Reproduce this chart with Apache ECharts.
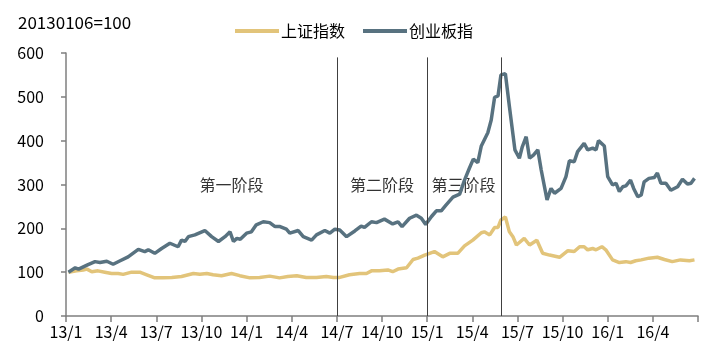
<!DOCTYPE html>
<html><head><meta charset="utf-8">
<script src="https://cdn.jsdelivr.net/npm/echarts@6/dist/echarts.min.js"></script>
<style>html,body{margin:0;padding:0;background:#fff}#c{width:711px;height:355px}</style>
</head><body><div id="c"></div>
<script>
const FONT = '"Noto Sans CJK SC","Noto Sans",sans-serif';
const seriesNames = ['上证指数', '创业板指'];
const xTickLabels = ['13/1','13/4','13/7','13/10','14/1','14/4','14/7','14/10','15/1','15/4','15/7','15/10','16/1','16/4',''];
const yTickLabels = ['0','100','200','300','400','500','600'];
const stageNames = ['第一阶段','第二阶段','第三阶段'];
const stageDates = ['2013-12-01','2014-10-01','2015-03-14'];
const stageY = [300, 300, 300];
const dividerDates = ['2014-07-01','2015-01-01','2015-05-30'];

const cybDates = ['2013-01-06','2013-01-20','2013-01-27','2013-02-12','2013-02-27','2013-03-09','2013-03-23','2013-04-05','2013-04-19','2013-05-05','2013-05-26','2013-06-08','2013-06-15','2013-06-28','2013-07-12','2013-07-29','2013-08-15','2013-08-22','2013-08-29','2013-09-05','2013-09-18','2013-10-08','2013-10-22','2013-11-05','2013-11-18','2013-11-28','2013-12-05','2013-12-12','2013-12-19','2014-01-01','2014-01-11','2014-01-21','2014-02-04','2014-02-16','2014-02-26','2014-03-08','2014-03-21','2014-03-28','2014-04-14','2014-04-24','2014-05-11','2014-05-21','2014-06-07','2014-06-17','2014-06-27','2014-07-07','2014-07-21','2014-08-07','2014-08-20','2014-08-27','2014-09-10','2014-09-20','2014-10-06','2014-10-23','2014-11-03','2014-11-11','2014-11-26','2014-12-10','2014-12-20','2014-12-29','2015-01-10','2015-01-20','2015-01-30','2015-02-08','2015-02-21','2015-03-06','2015-03-16','2015-03-26','2015-04-03','2015-04-12','2015-04-19','2015-05-02','2015-05-09','2015-05-16','2015-05-23','2015-05-29','2015-06-07','2015-06-15','2015-06-26','2015-07-05','2015-07-11','2015-07-19','2015-07-26','2015-08-03','2015-08-12','2015-08-19','2015-08-31','2015-09-08','2015-09-15','2015-09-28','2015-10-08','2015-10-15','2015-10-25','2015-11-01','2015-11-14','2015-11-21','2015-12-01','2015-12-08','2015-12-13','2015-12-25','2016-01-01','2016-01-11','2016-01-18','2016-01-25','2016-02-01','2016-02-07','2016-02-16','2016-02-22','2016-03-01','2016-03-08','2016-03-14','2016-03-24','2016-04-04','2016-04-10','2016-04-17','2016-04-27','2016-05-07','2016-05-21','2016-05-31','2016-06-10','2016-06-17','2016-06-24'];
const cybValues = [100,110,107,116,124,122,125,118,126,135,152,147,151,143,154,166,158,173,170,181,185,195,181,170,181,192,170,177,175,189,192,208,215,213,204,204,198,189,195,181,173,185,195,189,198,196,181,194,205,202,215,213,221,210,215,204,223,230,223,209,227,240,240,253,271,278,310,337,358,350,388,418,447,499,502,550,553,478,379,360,386,409,360,367,379,333,265,291,280,291,318,354,352,375,394,379,383,379,400,388,318,299,303,284,295,297,310,291,272,276,306,314,316,326,303,303,287,295,312,301,303,314];

const szDates = ['2013-01-06','2013-01-23','2013-02-05','2013-02-12','2013-02-21','2013-03-05','2013-03-19','2013-04-02','2013-04-15','2013-04-25','2013-05-12','2013-05-29','2013-06-12','2013-06-28','2013-07-15','2013-08-02','2013-08-22','2013-09-15','2013-09-28','2013-10-12','2013-10-25','2013-11-11','2013-12-01','2013-12-18','2014-01-08','2014-01-28','2014-02-16','2014-03-07','2014-03-24','2014-04-11','2014-04-30','2014-05-21','2014-06-10','2014-06-24','2014-07-07','2014-07-27','2014-08-17','2014-08-31','2014-09-10','2014-09-26','2014-10-13','2014-10-23','2014-11-03','2014-11-20','2014-12-03','2014-12-13','2014-12-27','2015-01-16','2015-02-02','2015-02-15','2015-03-02','2015-03-16','2015-04-02','2015-04-19','2015-04-25','2015-05-06','2015-05-16','2015-05-23','2015-05-29','2015-06-07','2015-06-15','2015-06-22','2015-06-29','2015-07-15','2015-07-26','2015-08-10','2015-08-22','2015-09-05','2015-09-25','2015-10-12','2015-10-25','2015-11-05','2015-11-14','2015-11-21','2015-12-01','2015-12-08','2015-12-20','2015-12-28','2016-01-11','2016-01-25','2016-02-07','2016-02-16','2016-02-26','2016-03-08','2016-03-24','2016-04-10','2016-04-24','2016-05-10','2016-05-27','2016-06-14','2016-06-24'];
const szValues = [100,103,105,107,101,103,100,97,97,95,100,100,94,87,87,88,90,97,95,97,94,92,97,92,87,88,91,87,90,92,88,88,90,88,88,94,97,97,103,103,105,101,107,110,129,132,139,147,135,143,143,160,173,190,192,185,202,202,219,226,192,181,162,177,162,173,143,139,134,149,147,158,158,151,154,151,158,151,128,122,124,122,126,128,132,134,129,124,128,126,128];

function toMonths(s) {
  const p = s.split('-').map(Number);
  const dim = new Date(p[0], p[1], 0).getDate();
  return (p[0] - 2013) * 12 + (p[1] - 1) + (p[2] - 1) / dim;
}
const pairs = (d, v) => d.map((x, i) => [toMonths(x), v[i]]);

const chart = echarts.init(document.getElementById('c'));
chart.setOption({
  animation: false,
  textStyle: { fontFamily: FONT },
  title: { text: '20130106=100', left: 13, top: 9,
    textStyle: { fontFamily: FONT, fontSize: 17, fontWeight: 'normal', color: '#000' } },
  legend: {
    data: seriesNames, left: 230, top: 18, itemWidth: 44, itemHeight: 4, itemGap: 18,
    icon: 'rect', textStyle: { fontFamily: FONT, fontSize: 16, color: '#000', padding: [0,0,0,-3] }
  },
  grid: { left: 66, right: 13, top: 53, bottom: 39, containLabel: false },
  xAxis: {
    type: 'value', min: 0, max: 42, interval: 3,
    axisLine: { lineStyle: { color: '#7f7f7f', width: 1.5 } },
    axisTick: { show: true, length: 6, lineStyle: { color: '#7f7f7f', width: 1.5 } },
    axisLabel: { fontFamily: FONT, fontSize: 16, color: '#000', margin: 8,
      formatter: v => xTickLabels[Math.round(v / 3)] || '' },
    splitLine: { show: false }
  },
  yAxis: {
    type: 'value', min: 0, max: 600, interval: 100,
    axisLine: { show: true, lineStyle: { color: '#7f7f7f', width: 1.5 } },
    axisTick: { show: true, length: 5, lineStyle: { color: '#7f7f7f', width: 1.5 } },
    axisLabel: { fontFamily: FONT, fontSize: 16, color: '#000', margin: 22,
      formatter: v => yTickLabels[Math.round(v / 100)] },
    splitLine: { show: false }
  },
  series: [
    { name: seriesNames[0], type: 'line', data: pairs(szDates, szValues), showSymbol: false,
      color: '#E2C47A', lineStyle: { width: 3.5, color: '#E2C47A' }, z: 3 },
    { name: seriesNames[1], type: 'line', data: pairs(cybDates, cybValues), showSymbol: false,
      color: '#587280', lineStyle: { width: 3.5, color: '#587280' }, z: 4,
      markLine: { silent: true, symbol: 'none', label: { show: false },
        lineStyle: { color: '#404040', width: 1, type: 'solid' },
        data: dividerDates.map(d => [{ coord: [toMonths(d), 0] }, { coord: [toMonths(d), 590] }]) } },
    { name: 'stages', type: 'scatter', symbolSize: 0, silent: true,
      data: stageNames.map((n, i) => ({ value: [toMonths(stageDates[i]), stageY[i]], name: n })),
      label: { show: true, position: 'inside', formatter: p => p.name,
        fontFamily: FONT, fontSize: 16, color: '#000' } }
  ]
});
</script></body></html>
